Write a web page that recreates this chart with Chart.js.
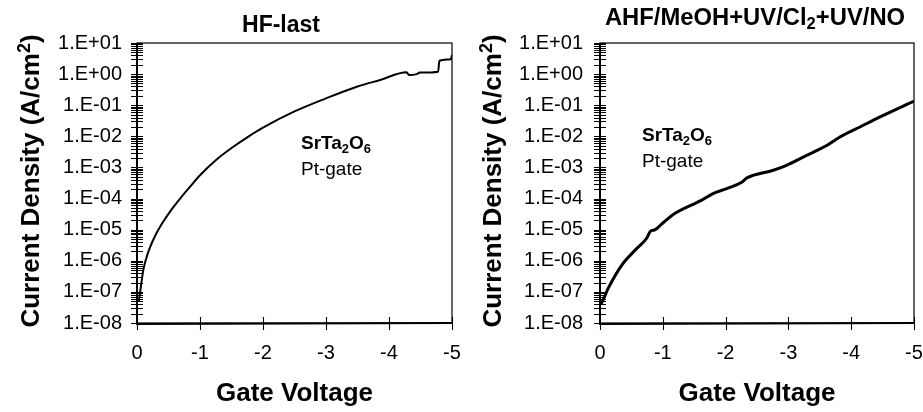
<!DOCTYPE html>
<html><head><meta charset="utf-8">
<script src="https://cdn.jsdelivr.net/npm/chart.js@4.4.1/dist/chart.umd.min.js"></script>
<style>
html,body{margin:0;padding:0;background:#fff;overflow:hidden}
#wrap{position:relative;width:923px;height:412px;background:#fff}
canvas{position:absolute;top:0}
</style></head><body>
<div id="wrap">
<canvas id="c1" width="461" height="412" style="left:0"></canvas>
<canvas id="c2" width="462" height="412" style="left:461px"></canvas>
</div>
<script>
const FONT = "'Liberation Sans', Arial, Helvetica, sans-serif";

// ---- data ----
const xTickValues = [0, -1, -2, -3, -4, -5];
const xTickLabels = ['0', '-1', '-2', '-3', '-4', '-5'];
const yDecades = [1e-8, 1e-7, 1e-6, 1e-5, 1e-4, 1e-3, 1e-2, 1e-1, 1e0, 1e1];
const yTickLabels = ['1.E-08', '1.E-07', '1.E-06', '1.E-05', '1.E-04', '1.E-03', '1.E-02', '1.E-01', '1.E+00', '1.E+01'];

// HF-last
const hfVoltage = [-0.03, -0.05, -0.10, -0.15, -0.20, -0.30, -0.40, -0.55, -0.70, -0.85, -1.00, -1.25, -1.50, -1.75, -2.00, -2.50, -3.00, -3.50, -3.86, -4.28, -4.32, -4.44, -4.49, -4.78, -4.80, -4.98, -5.00];
const hfCurrent = [5.0e-8, 1.0e-7, 5.0e-7, 1.26e-6, 2.5e-6, 7.1e-6, 1.6e-5, 4.5e-5, 1.1e-4, 2.5e-4, 5.6e-4, 1.7e-3, 4.2e-3, 9.3e-3, 1.9e-2, 6.3e-2, 1.66e-1, 4.0e-1, 6.5e-1, 1.15, 0.93, 1.0, 1.12, 1.2, 2.7, 3.0, 4.1];

// AHF/MeOH+UV/Cl2+UV/NO
const ahfVoltage = [0.00, -0.02, -0.13, -0.35, -0.56, -0.74, -0.80, -0.88, -0.98, -1.19, -1.62, -1.80, -2.02, -2.25, -2.34, -2.76, -2.97, -3.29, -3.61, -3.82, -4.14, -4.46, -5.00];
const ahfCurrent = [4.0e-8, 4.3e-8, 1.3e-7, 7.4e-7, 2.2e-6, 5.2e-6, 8.7e-6, 1.0e-5, 1.5e-5, 3.3e-5, 8.9e-5, 1.45e-4, 2.1e-4, 3.3e-4, 4.6e-4, 8.1e-4, 1.17e-3, 2.45e-3, 5.1e-3, 9.5e-3, 2.0e-2, 4.2e-2, 1.35e-1];

const hfTitle = [{t: 'HF-last'}];
const ahfTitle = [{t: 'AHF/MeOH+UV/Cl'}, {t: '2', k: 'sub'}, {t: '+UV/NO'}];
const materialText = [{t: 'SrTa'}, {t: '2', k: 'sub'}, {t: 'O'}, {t: '6', k: 'sub'}];
const gateText = [{t: 'Pt-gate'}];
const yTitleText = [{t: 'Current Density (A/cm'}, {t: '2', k: 'sup'}, {t: ')'}];
const xTitleText = [{t: 'Gate Voltage'}];

// ---- helpers ----
function drawRich(ctx, segs, x, y, align, size, bold, sx) {
  sx = sx || 1;
  const w8 = bold ? 'bold ' : '';
  const base = w8 + size + 'px ' + FONT;
  const small = w8 + Math.round(size * 0.68) + 'px ' + FONT;
  let w = 0;
  const parts = segs.map(s => {
    const f = s.k ? small : base;
    ctx.font = f;
    const mw = ctx.measureText(s.t).width;
    w += mw;
    return {t: s.t, f, mw, dy: s.k === 'sub' ? size * 0.19 : (s.k === 'sup' ? -size * 0.36 : 0)};
  });
  ctx.save();
  ctx.translate(x, y);
  ctx.scale(sx, 1);
  let cx = align === 'center' ? -w / 2 : (align === 'right' ? -w : 0);
  ctx.textBaseline = 'alphabetic';
  ctx.textAlign = 'left';
  ctx.fillStyle = '#000';
  for (const p of parts) { ctx.font = p.f; ctx.fillText(p.t, cx, p.dy); cx += p.mw; }
  ctx.restore();
}

function isDecade(v) {
  return yDecades.findIndex(d => Math.abs(v / d - 1) < 1e-6);
}

function makeChart(canvas, voltages, currents, cfg) {
  const deco = {
    id: 'deco',
    afterDraw(chart) {
      const ctx = chart.ctx, ca = chart.chartArea;
      const xs = chart.scales.x, ys = chart.scales.y;
      ctx.save();
      ctx.strokeStyle = '#000';
      ctx.lineWidth = 1.2;
      ctx.strokeRect(ca.left, ca.top, ca.right - ca.left, ca.bottom - ca.top);
      ctx.lineWidth = 2;
      ctx.beginPath();
      ctx.moveTo(ca.left, ca.top); ctx.lineTo(ca.left, ca.bottom + 1); ctx.lineTo(ca.right + 1, ca.bottom);
      ctx.stroke();
      ctx.lineWidth = 1.1;
      ctx.beginPath();
      for (const t of ys.ticks) {
        const p = Math.round(ys.getPixelForValue(t.value)) + 0.5;
        ctx.moveTo(ca.left - 6, p); ctx.lineTo(ca.left + 6, p);
      }
      for (const t of xs.ticks) {
        const p = Math.round(xs.getPixelForValue(t.value)) + 0.5;
        ctx.moveTo(p, ca.bottom - 6); ctx.lineTo(p, ca.bottom + 7);
      }
      ctx.stroke();
      ctx.restore();

      const cxm = (ca.left + ca.right) / 2;
      drawRich(ctx, cfg.title, cfg.titleX, cfg.titleY, 'center', 23, true, cfg.titleSx);
      drawRich(ctx, xTitleText, cxm, 401, 'center', 26, true);
      ctx.save();
      ctx.translate(cfg.yTitleX, (ca.top + ca.bottom) / 2 - 2);
      ctx.rotate(-Math.PI / 2);
      drawRich(ctx, yTitleText, 0, 0, 'center', 26, true);
      ctx.restore();
      drawRich(ctx, materialText, cfg.annX, cfg.annY, 'left', 19, true);
      drawRich(ctx, gateText, cfg.annX, cfg.annY + 26, 'left', 19, false);
    }
  };

  return new Chart(canvas, {
    type: 'scatter',
    data: {
      datasets: [{
        data: voltages.map((v, i) => ({x: v, y: currents[i]})),
        showLine: true,
        borderColor: '#000',
        borderWidth: cfg.lineWidth,
        pointRadius: 0,
        cubicInterpolationMode: 'monotone',
        fill: false
      }]
    },
    options: {
      responsive: false,
      animation: false,
      devicePixelRatio: 1,
      layout: {padding: {top: 43, right: cfg.padRight, left: 0, bottom: 0}},
      plugins: {legend: {display: false}, tooltip: {enabled: false}, title: {display: false}},
      scales: {
        x: {
          type: 'linear',
          min: -5, max: 0, reverse: true,
          grid: {display: false, drawTicks: false},
          border: {display: false},
          afterBuildTicks: s => { s.ticks = xTickValues.map(v => ({value: v})); },
          afterFit: s => { s.height = 89; s.paddingLeft = 0; s.paddingRight = 0; },
          ticks: {
            autoSkip: false, maxRotation: 0,
            padding: 18,
            color: '#000',
            font: {family: FONT, size: 20},
            callback: v => { const i = xTickValues.indexOf(v); return i >= 0 ? xTickLabels[i] : ''; }
          }
        },
        y: {
          type: 'logarithmic',
          min: 1e-8, max: 10,
          grid: {display: false, drawTicks: false},
          border: {display: false},
          afterBuildTicks: s => {
            const t = [];
            for (let i = 0; i < yDecades.length - 1; i++) {
              for (let m = 1; m <= 9; m++) t.push({value: m * yDecades[i]});
            }
            t.push({value: yDecades[yDecades.length - 1]});
            s.ticks = t;
          },
          afterFit: s => { s.width = cfg.yWidth; s.paddingTop = 0; s.paddingBottom = 0; },
          ticks: {
            autoSkip: false,
            padding: cfg.yPad,
            color: '#000',
            font: {family: FONT, size: 20},
            callback: v => { const i = isDecade(v); return i >= 0 ? yTickLabels[i] : ''; }
          }
        }
      }
    },
    plugins: [deco]
  });
}

makeChart(document.getElementById('c1'), hfVoltage, hfCurrent, {
  title: hfTitle, titleX: 281, titleY: 32, titleSx: 1,
  yTitleX: 39, annX: 301, annY: 149,
  lineWidth: 2, padRight: 9, yWidth: 137, yPad: 15
});
makeChart(document.getElementById('c2'), ahfVoltage, ahfCurrent, {
  title: ahfTitle, titleX: 294, titleY: 25, titleSx: 1.035,
  yTitleX: 40, annX: 181, annY: 141,
  lineWidth: 3, padRight: 9, yWidth: 139, yPad: 17
});
</script>
</body></html>
